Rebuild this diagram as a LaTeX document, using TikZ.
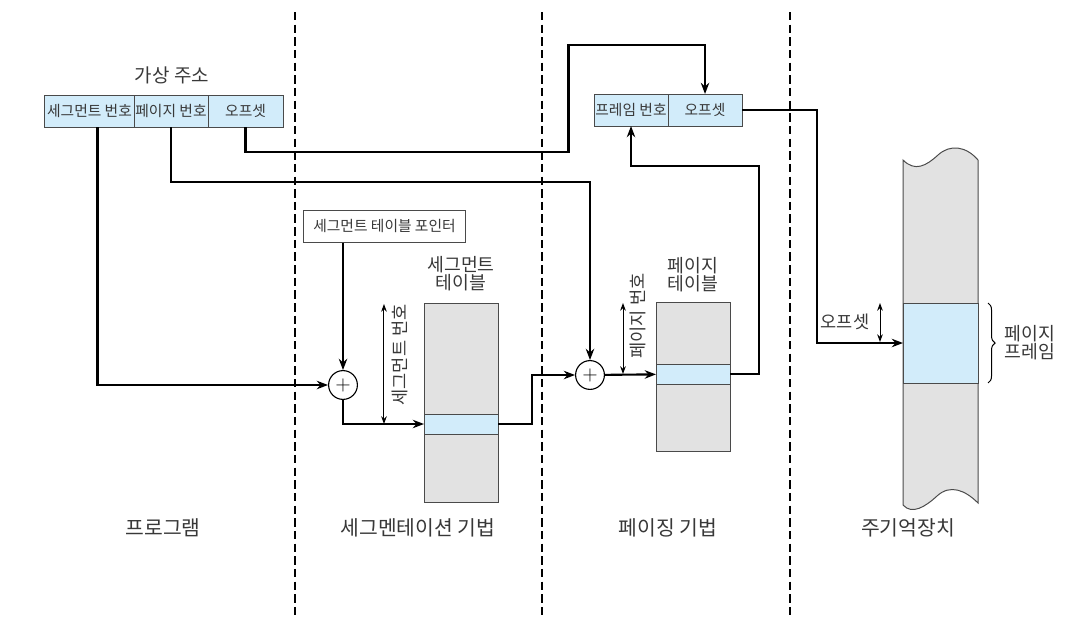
\documentclass[tikz,border=0pt]{standalone}
\usepackage{fontspec}
\setmainfont{Noto Sans CJK KR}
\usepackage{tikz}
\usetikzlibrary{arrows.meta}
\usetikzlibrary{positioning, decorations.pathreplacing}
\definecolor{lblue}{HTML}{D2ECFA}
\definecolor{lgray}{HTML}{E2E2E2}
\definecolor{linec}{HTML}{4A4A4A}
\definecolor{txt}{HTML}{383838}
\newcommand\ksize[1]{\fontsize{#1}{#1}\selectfont}

\begin{document}
\begin{tikzpicture}[x=0.025cm, y=-0.025cm, line width=1.5pt, >={Stealth[length=8pt,width=6pt]},
	field/.style={draw=linec, line width=0.7pt, fill=lblue, minimum height=0.8cm, inner sep=0pt, outer sep=0pt, text=txt, font=\ksize{10.5}},
	tab/.style={draw=linec, line width=0.7pt, fill=lgray, minimum width=1.85cm, inner sep=0pt, outer sep=0pt},
	tabrow/.style={draw=linec, line width=0.7pt, fill=lblue, minimum width=1.85cm, minimum height=0.5cm, inner sep=0pt, outer sep=0pt},
	adder/.style={draw, circle, line width=0.8pt, fill=white, minimum size=0.72cm, inner sep=0pt, font=\ksize{15}},
	dim/.style={{Stealth[length=5.5pt,width=4pt]}-{Stealth[length=5.5pt,width=4pt]}, line width=0.7pt},
	lbl/.style={text=txt, align=center, font=\ksize{13}, inner sep=1pt},
	part/.style={text=txt, font=\ksize{14.5}},
	sep/.style={line width=1.9pt, dash pattern=on 6pt off 3pt}]
			\useasboundingbox (0,0) rectangle (1076,638);
			
			\draw[sep] (295,12) -- (295,615);
			\draw[sep] (542,12) -- (542,615);
			\draw[sep] (790,12) -- (790,615);
			
			\node[lbl, font=\ksize{13.5}] (va) at (172,75) {가상 주소};
			\node[field, minimum width=2.225cm] (seg) at (89.5,111) {세그먼트 번호};
			\node[field, minimum width=1.85cm, right=0pt of seg] (page) {페이지 번호};
			\node[field, minimum width=1.875cm, right=0pt of page] (off) {오프셋};
			
			\node[field, minimum width=1.85cm] (fnum) at (631,110) {프레임 번호};
			\node[field, minimum width=1.85cm, right=0pt of fnum] (foff) {오프셋};
			
			\node[draw=linec, line width=0.7pt, fill=white, minimum width=4.025cm, minimum height=0.8cm, inner sep=0pt, text=txt, font=\ksize{10.5}] (ptr) at (384.5,226) {세그먼트 테이블 포인터};
			
			\node[adder] (sadd) at (343,385) {$+$};
			\node[adder] (padd) at (590,375) {$+$};
			
			\node[lbl] (stablbl) at (461,274) {세그먼트\\테이블};
			\node[tab, minimum height=4.95cm] (stab) at (461,403) {};
			\node[tabrow] (srow) at (461,424) {};
			
			\node[lbl] (ptablbl) at (693,275) {페이지\\테이블};
			\node[tab, minimum height=3.7cm] (ptab) at (693,377) {};
			\node[tabrow] (prow) at (693,374) {};
			
			\draw[draw=linec, line width=0.7pt, fill=lgray] (903,160) .. controls (915,172) and (926,166) .. (938,155) .. controls (950,144) and (966,146) .. (978,160) -- (978,503) .. controls (965,490) and (950,484) .. (937,496) .. controls (925,507) and (912,515) .. (903,505) -- cycle;
			\node[draw=linec, line width=0.7pt, fill=lblue, minimum width=1.875cm, minimum height=2cm, inner sep=0pt, outer sep=0pt] (mframe) at (940.5,343) {};
			
			\draw[->] ([xshift=0.2cm]seg.south) |- (sadd);
			\draw[->] (ptr.south -| sadd) -- (sadd);
			\draw[->] (sadd) |- (srow);
			\draw[->] (srow.east) -- ++(34,0) |- (padd);
			\draw[->] (page.south) -- ++(0,55) -| (padd);
			\draw[->] (padd) -- (prow);
			\draw[->] (prow.east) -- ++(29,0) -- ++(0,-208) -| (fnum);
			\draw[->] (off.south) -- ++(0,25) -- ++(323,0) -- ++(0,-107) -| (foff);
			\draw[->] (foff.east) -- ++(75,0) |- (mframe);
			
			\draw[dim] ([xshift=-1cm]stab.north west) -- ++(0,120);
			\node[lbl, font=\ksize{12.5}, rotate=90] (snolbl) at (400,355) {세그먼트 번호};
			\draw[dim] ([xshift=-0.825cm]ptab.north west) -- ++(0,71);
			\node[lbl, font=\ksize{12.5}, rotate=90] (pnolbl) at (638,316) {페이지 번호};
			\draw[dim] ([xshift=-0.575cm]mframe.north west) -- ++(0,39);
			\node[lbl, font=\ksize{12.5}] (offlbl) at (845,322) {오프셋};
			
			\draw[line width=0.7pt, decorate, decoration={brace, amplitude=5pt}] ([xshift=0.25cm]mframe.north east) -- ([xshift=0.25cm]mframe.south east);
			\node[lbl] (pflbl) at (1030,343) {페이지\\프레임};
			
			\node[part] (prog) at (163,528) {프로그램};
			\node[part] (segm) at (418,528) {세그멘테이션 기법};
			\node[part] (pagi) at (668,528) {페이징 기법};
			\node[part] (mem) at (908,528) {주기억장치};
\end{tikzpicture}
\end{document}
